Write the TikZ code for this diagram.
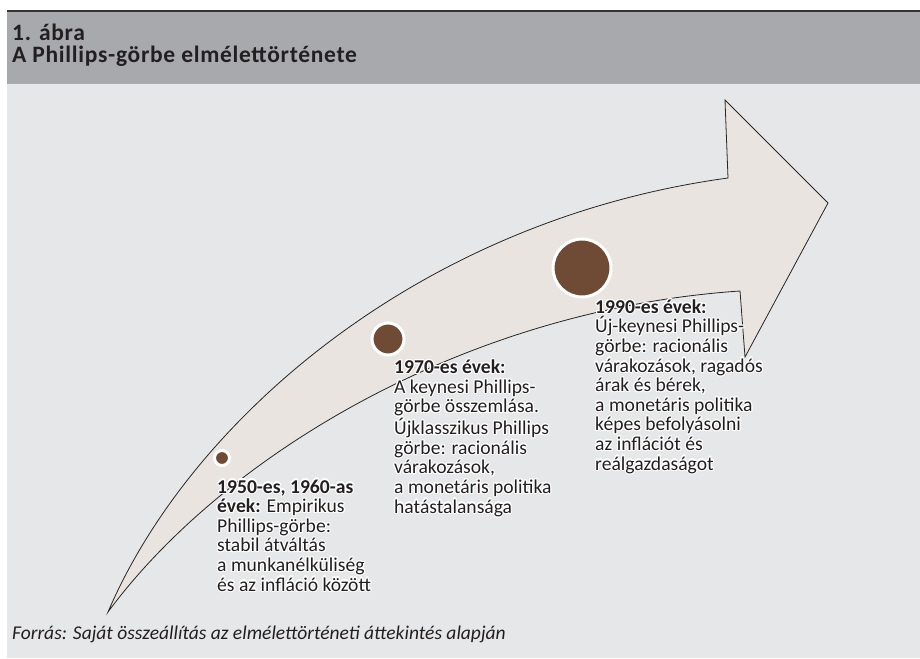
\documentclass[tikz,border=0pt]{standalone}
\usepackage{fontspec}
\usepackage{contour}
\setmainfont{Carlito}
\newfontfamily\titlefont[LetterSpace=3]{Carlito}
\contourlength{1.1pt}
\contournumber{16}
\newcommand\hl[1]{\contour{white}{#1}}
\definecolor{hdrgrey}{HTML}{A7A9AC}
\definecolor{bodygrey}{HTML}{E6E7E8}
\definecolor{arrowfill}{HTML}{E9E4E0}
\definecolor{dotbrown}{HTML}{6F4A34}
\definecolor{txt}{HTML}{231F20}
\tikzset{
  dot/.style={circle,fill=dotbrown,draw=white,line width=3pt,inner sep=0pt},
  era/.style={anchor=base west,align=left,inner sep=0pt,font=\fontsize{19.6}{19.6}\selectfont,text=txt},
}
\begin{document}
\begin{tikzpicture}[x=1pt,y=-1pt]
  \useasboundingbox (0,0) rectangle (920,658);
  \fill[bodygrey] (7,85) rectangle (920,658);
  \fill[hdrgrey] (7,12) rectangle (920,84);
  \draw[line width=2.5pt,black!80] (7,11) -- (920,11);
  \draw[line width=1pt,white!75!hdrgrey] (7,84.5) -- (920,84.5);
  \node[anchor=base west,align=left,inner sep=0pt,font=\titlefont\bfseries\fontsize{23.5}{22}\selectfont,text=txt] (title) at (12,63) {1. ábra\\A Phillips-görbe elmélettörténete};
  \filldraw[fill=arrowfill,draw=black!85,line width=0.8pt] (108,612) .. controls (190,420) and (420,220) .. (728,178) -- (725,100) -- (828,203) -- (745,357) -- (740,291) .. controls (460,310) and (220,460) .. cycle;
  \node[dot,minimum size=15pt] (d50) at (222,458) {};
  \node[dot,minimum size=32pt] (d70) at (388,339) {};
  \node[dot,minimum size=58pt] (d90) at (582,268) {};
  \node[era] (t50) at (217,591) {\hl{\textbf{1950-es, 1960-as}}\\\hl{\textbf{évek:} Empirikus}\\\hl{Phillips-görbe:}\\\hl{stabil átváltás}\\\hl{a munkanélküliség}\\\hl{és az infláció között}};
  \node[era] (t70) at (394,513) {\hl{\textbf{1970-es évek:}}\\\hl{A keynesi Phillips-}\\\hl{görbe összemlása.}\\\hl{Újklasszikus Phillips}\\\hl{görbe: racionális}\\\hl{várakozások,}\\\hl{a monetáris politika}\\\hl{hatástalansága}};
  \node[era] (t90) at (595,470) {\hl{\textbf{1990-es évek:}}\\\hl{Új-keynesi Phillips-}\\\hl{görbe: racionális}\\\hl{várakozások, ragadós}\\\hl{árak és bérek,}\\\hl{a monetáris politika}\\\hl{képes befolyásolni}\\\hl{az inflációt és}\\\hl{reálgazdaságot}};
  \node[anchor=base west,inner sep=0pt,font=\itshape\fontsize{19.5}{20}\selectfont,text=txt] (source) at (12,639) {Forrás: Saját összeállítás az elmélettörténeti áttekintés alapján};
\end{tikzpicture}
\end{document}
